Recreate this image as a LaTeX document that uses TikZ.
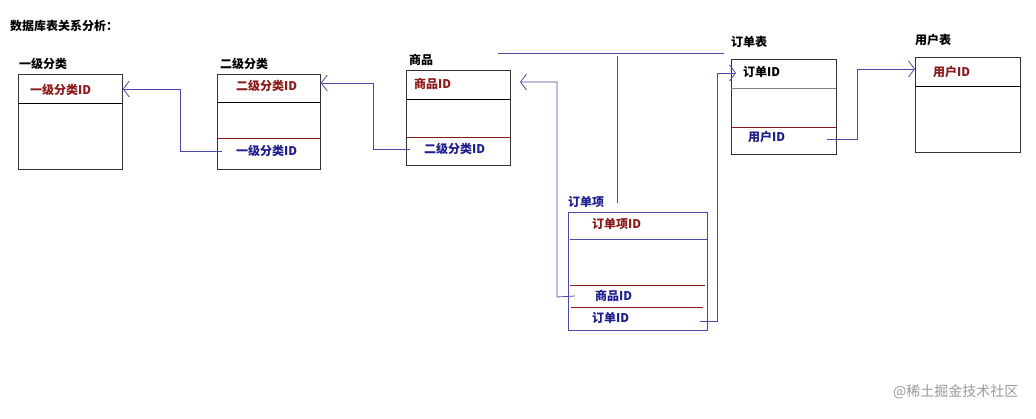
\documentclass[tikz,border=0pt]{standalone}
\usepackage{fontspec}
\setmainfont{Noto Sans CJK SC}
\usetikzlibrary{positioning,arrows.meta}

\definecolor{linkblue}{HTML}{4A4AA8}
\definecolor{keyred}{HTML}{8B1A1A}
\definecolor{fkblue}{HTML}{1E1E8C}

\tikzset{
  table/.style={draw=black!80, line width=0.8pt, anchor=north west, inner sep=0pt},
  title/.style={font=\bfseries\fontsize{12}{12}\selectfont, anchor=west, inner sep=0pt},
  pk/.style={font=\bfseries\fontsize{12}{12}\selectfont, text=keyred, anchor=west, inner sep=0pt},
  fk/.style={font=\bfseries\fontsize{12}{12}\selectfont, text=fkblue, anchor=west, inner sep=0pt},
  sep/.style={line width=0.7pt},
  link/.style={draw=linkblue, line width=0.8pt, -{Straight Barb[length=6pt,width=16pt]}},
}

\begin{document}
\begin{tikzpicture}[x=1pt,y=-1pt]
    \useasboundingbox (0,0) rectangle (1036,419);

    % Define nodes
    \node[title] (head) at (10,26) {数据库表关系分析：};

    \node[table, minimum width=104pt, minimum height=95pt] (cat1) at (18,74) {};
    \node[title, above right=4pt and 1pt of cat1.north west] {一级分类};
    \node[pk] (cat1id) at (30,90) {一级分类ID};
    \draw[sep] (18,103) -- (122,103);

    \node[table, minimum width=103pt, minimum height=95pt] (cat2) at (217,74) {};
    \node[title, above right=4pt and 3pt of cat2.north west] {二级分类};
    \node[pk] (cat2id) at (236,86) {二级分类ID};
    \node[fk] (cat2fk) at (236,151) {一级分类ID};
    \draw[sep] (217,102) -- (320,102);
    \draw[sep, keyred] (217,138) -- (320,138);

    \node[table, minimum width=104pt, minimum height=95pt] (goods) at (406,70) {};
    \node[title, above right=4pt and 3pt of goods.north west] {商品};
    \node[pk] (goodsid) at (414,84) {商品ID};
    \node[fk] (goodsfk) at (424,149) {二级分类ID};
    \draw[sep] (406,99) -- (510,99);
    \draw[sep, keyred] (406,137) -- (510,137);

    \node[table, draw=linkblue, minimum width=139pt, minimum height=118pt] (item) at (568,212) {};
    \node[title, text=fkblue, above right=4pt and 0pt of item.north west] {订单项};
    \node[pk] (itemid) at (592,224) {订单项ID};
    \node[fk] (itemgoods) at (595,296) {商品ID};
    \node[fk] (itemorder) at (592,318) {订单ID};
    \draw[sep, linkblue] (570,239) -- (707,239);
    \draw[sep, keyred] (570,285) -- (705,285);
    \draw[sep, keyred] (571,307) -- (703,307);

    \node[table, minimum width=105pt, minimum height=95pt] (order) at (731,59) {};
    \node[title, above right=11pt and 0pt of order.north west] {订单表};
    \node[title] (orderid) at (743,72) {订单ID};
    \node[fk] (orderuser) at (748,137) {用户ID};
    \draw[sep, black!50] (731,88) -- (836,88);
    \draw[sep, keyred] (731,127) -- (836,127);

    \node[table, minimum width=105pt, minimum height=95pt] (user) at (915,57) {};
    \node[title, above right=11pt and 0pt of user.north west] {用户表};
    \node[pk] (userid) at (933,72) {用户ID};
    \draw[sep] (915,86) -- (1020,86);

    % Connect the nodes
    \draw[link] ([xshift=5pt]cat2.west |- cat2fk) -- (180,151) |- (cat1.east |- 0,89);
    \draw[link] ([xshift=4pt]goods.west |- goodsfk) -- (373,149) |- (cat2.east |- 0,83);
    \draw[link] ([xshift=7pt]item.west |- itemgoods) -- (557,297) |- (520,82);
    \draw[link] ([xshift=-8pt]item.east |- 0,321) -- (717,321) |- (736,73);
    \draw[link] ([xshift=-10pt]order.east |- 0,139) -- (857,139) |- (user.west |- 0,69);

    % loose line
    \draw[linkblue, line width=0.8pt] (498,53) -- (724,53);
    \draw[linkblue, line width=0.8pt] (617,56) -- (617,203);

    \node[font=\fontsize{14}{14}\selectfont, text=black!40, anchor=east] (mark) at (1022,392) {@稀土掘金技术社区};
\end{tikzpicture}
\end{document}
